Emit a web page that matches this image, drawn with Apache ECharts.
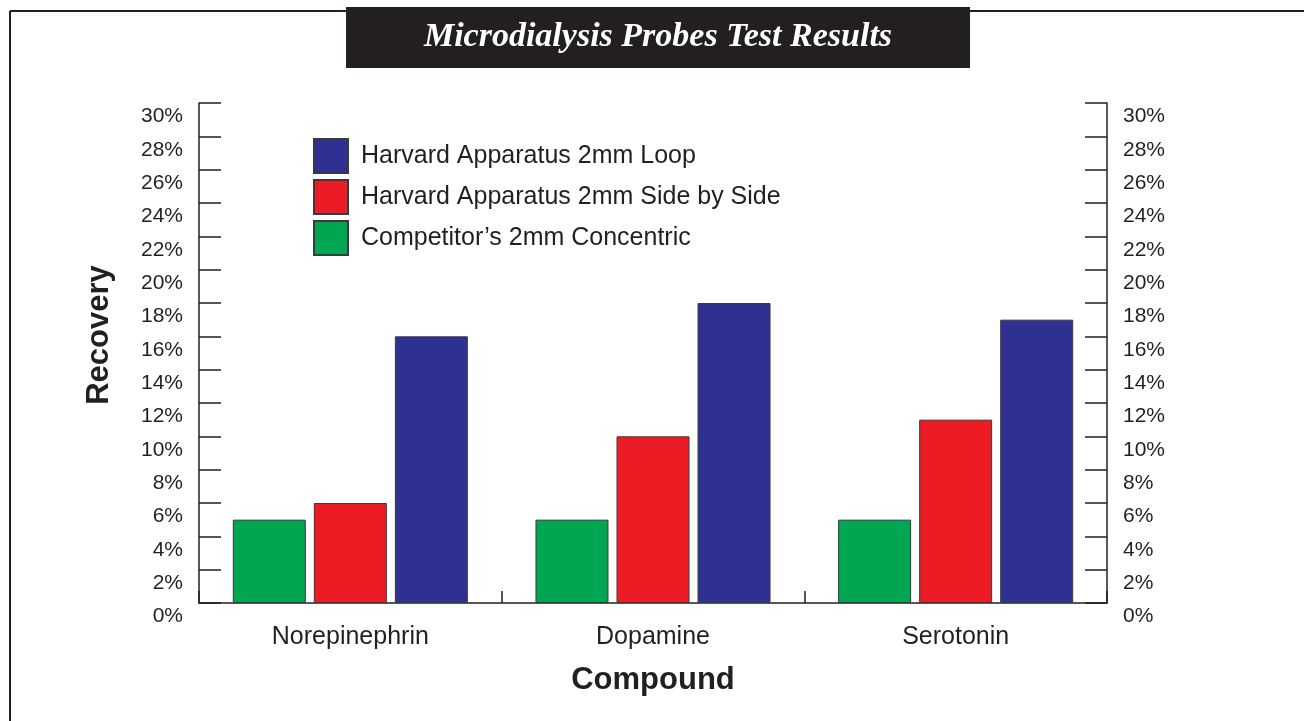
<!DOCTYPE html>
<html>
<head>
<meta charset="utf-8">
<script src="https://cdn.jsdelivr.net/npm/echarts@6/dist/echarts.min.js"></script>
<style>
html,body{margin:0;padding:0;background:#fff;}
#chart{width:1304px;height:721px;}
</style>
</head>
<body>
<div id="chart"></div>
<script>
const categories = ['Norepinephrin', 'Dopamine', 'Serotonin'];
const competitorConcentric = [5, 5, 5];
const harvardSideBySide = [6, 10, 11];
const harvardLoop = [16, 18, 17];
const seriesNames = ['Harvard Apparatus 2mm Loop', 'Harvard Apparatus 2mm Side by Side', 'Competitor\u2019s 2mm Concentric'];
const titleText = 'Microdialysis Probes Test Results';

const txt = '#231f20';
const chart = echarts.init(document.getElementById('chart'));
const yAxisCommon = {
  type: 'value', min: 0, max: 30, interval: 2,
  axisLine: {show: true, lineStyle: {color: txt, width: 1.5}},
  axisTick: {show: true, inside: true, length: 22, lineStyle: {color: txt, width: 1.5}},
  splitLine: {show: false},
  axisLabel: {formatter: '{value}%', color: txt, fontSize: 21, fontFamily: 'Liberation Sans', margin: 16, verticalAlign: 'top', padding: [3, 0, 0, 0]}
};
const barStyle = (c) => ({color: c, borderColor: '#3a3a3a', borderWidth: 1});
chart.setOption({
  animation: false,
  backgroundColor: '#fff',
  grid: {left: 199, right: 197, top: 103, bottom: 118},
  legend: {
    left: 313, top: 138, orient: 'vertical', padding: 0,
    itemWidth: 34, itemHeight: 34, itemGap: 5,
    icon: 'rect',
    data: seriesNames,
    textStyle: {color: txt, fontSize: 25, fontFamily: 'Liberation Sans', padding: [0, 0, 0, 8]}
  },
  xAxis: {
    type: 'category', data: categories,
    name: 'Compound', nameLocation: 'middle', nameGap: 62,
    nameTextStyle: {color: txt, fontSize: 31, fontWeight: 'bold', fontFamily: 'Liberation Sans'},
    axisLine: {lineStyle: {color: txt, width: 1.5}},
    axisTick: {show: true, inside: true, length: 12, lineStyle: {color: txt, width: 1.5}},
    axisLabel: {color: txt, fontSize: 25, fontFamily: 'Liberation Sans', margin: 22}
  },
  yAxis: [
    Object.assign({}, yAxisCommon, {
      position: 'left',
      name: 'Recovery', nameLocation: 'middle', nameGap: 84,
      nameTextStyle: {color: txt, fontSize: 31, fontWeight: 'bold', fontFamily: 'Liberation Sans', padding: [0, 0, 0, 36]}
    }),
    Object.assign({}, yAxisCommon, {position: 'right'})
  ],
  series: [
    {name: seriesNames[2], type: 'bar', data: competitorConcentric, barWidth: 73, barGap: '11%', itemStyle: barStyle('#00a651')},
    {name: seriesNames[1], type: 'bar', data: harvardSideBySide, barWidth: 73, barGap: '11%', itemStyle: barStyle('#ed1c24')},
    {name: seriesNames[0], type: 'bar', data: harvardLoop, barWidth: 73, barGap: '11%', itemStyle: barStyle('#2e3192')}
  ],
  graphic: [
    {type: 'line', shape: {x1: 10, y1: 11, x2: 1304, y2: 11}, style: {stroke: '#231f20', lineWidth: 2}},
    {type: 'line', shape: {x1: 10, y1: 11, x2: 10, y2: 721}, style: {stroke: '#231f20', lineWidth: 2}},
    {type: 'rect', shape: {x: 346, y: 7, width: 624, height: 61}, style: {fill: '#231f20'}},
    {type: 'text', x: 658, y: 37, style: {text: titleText, fill: '#fff', fontSize: 34, fontWeight: 'bold', fontStyle: 'italic', fontFamily: 'Liberation Serif', align: 'center', verticalAlign: 'middle'}}
  ]
});
</script>
</body>
</html>
